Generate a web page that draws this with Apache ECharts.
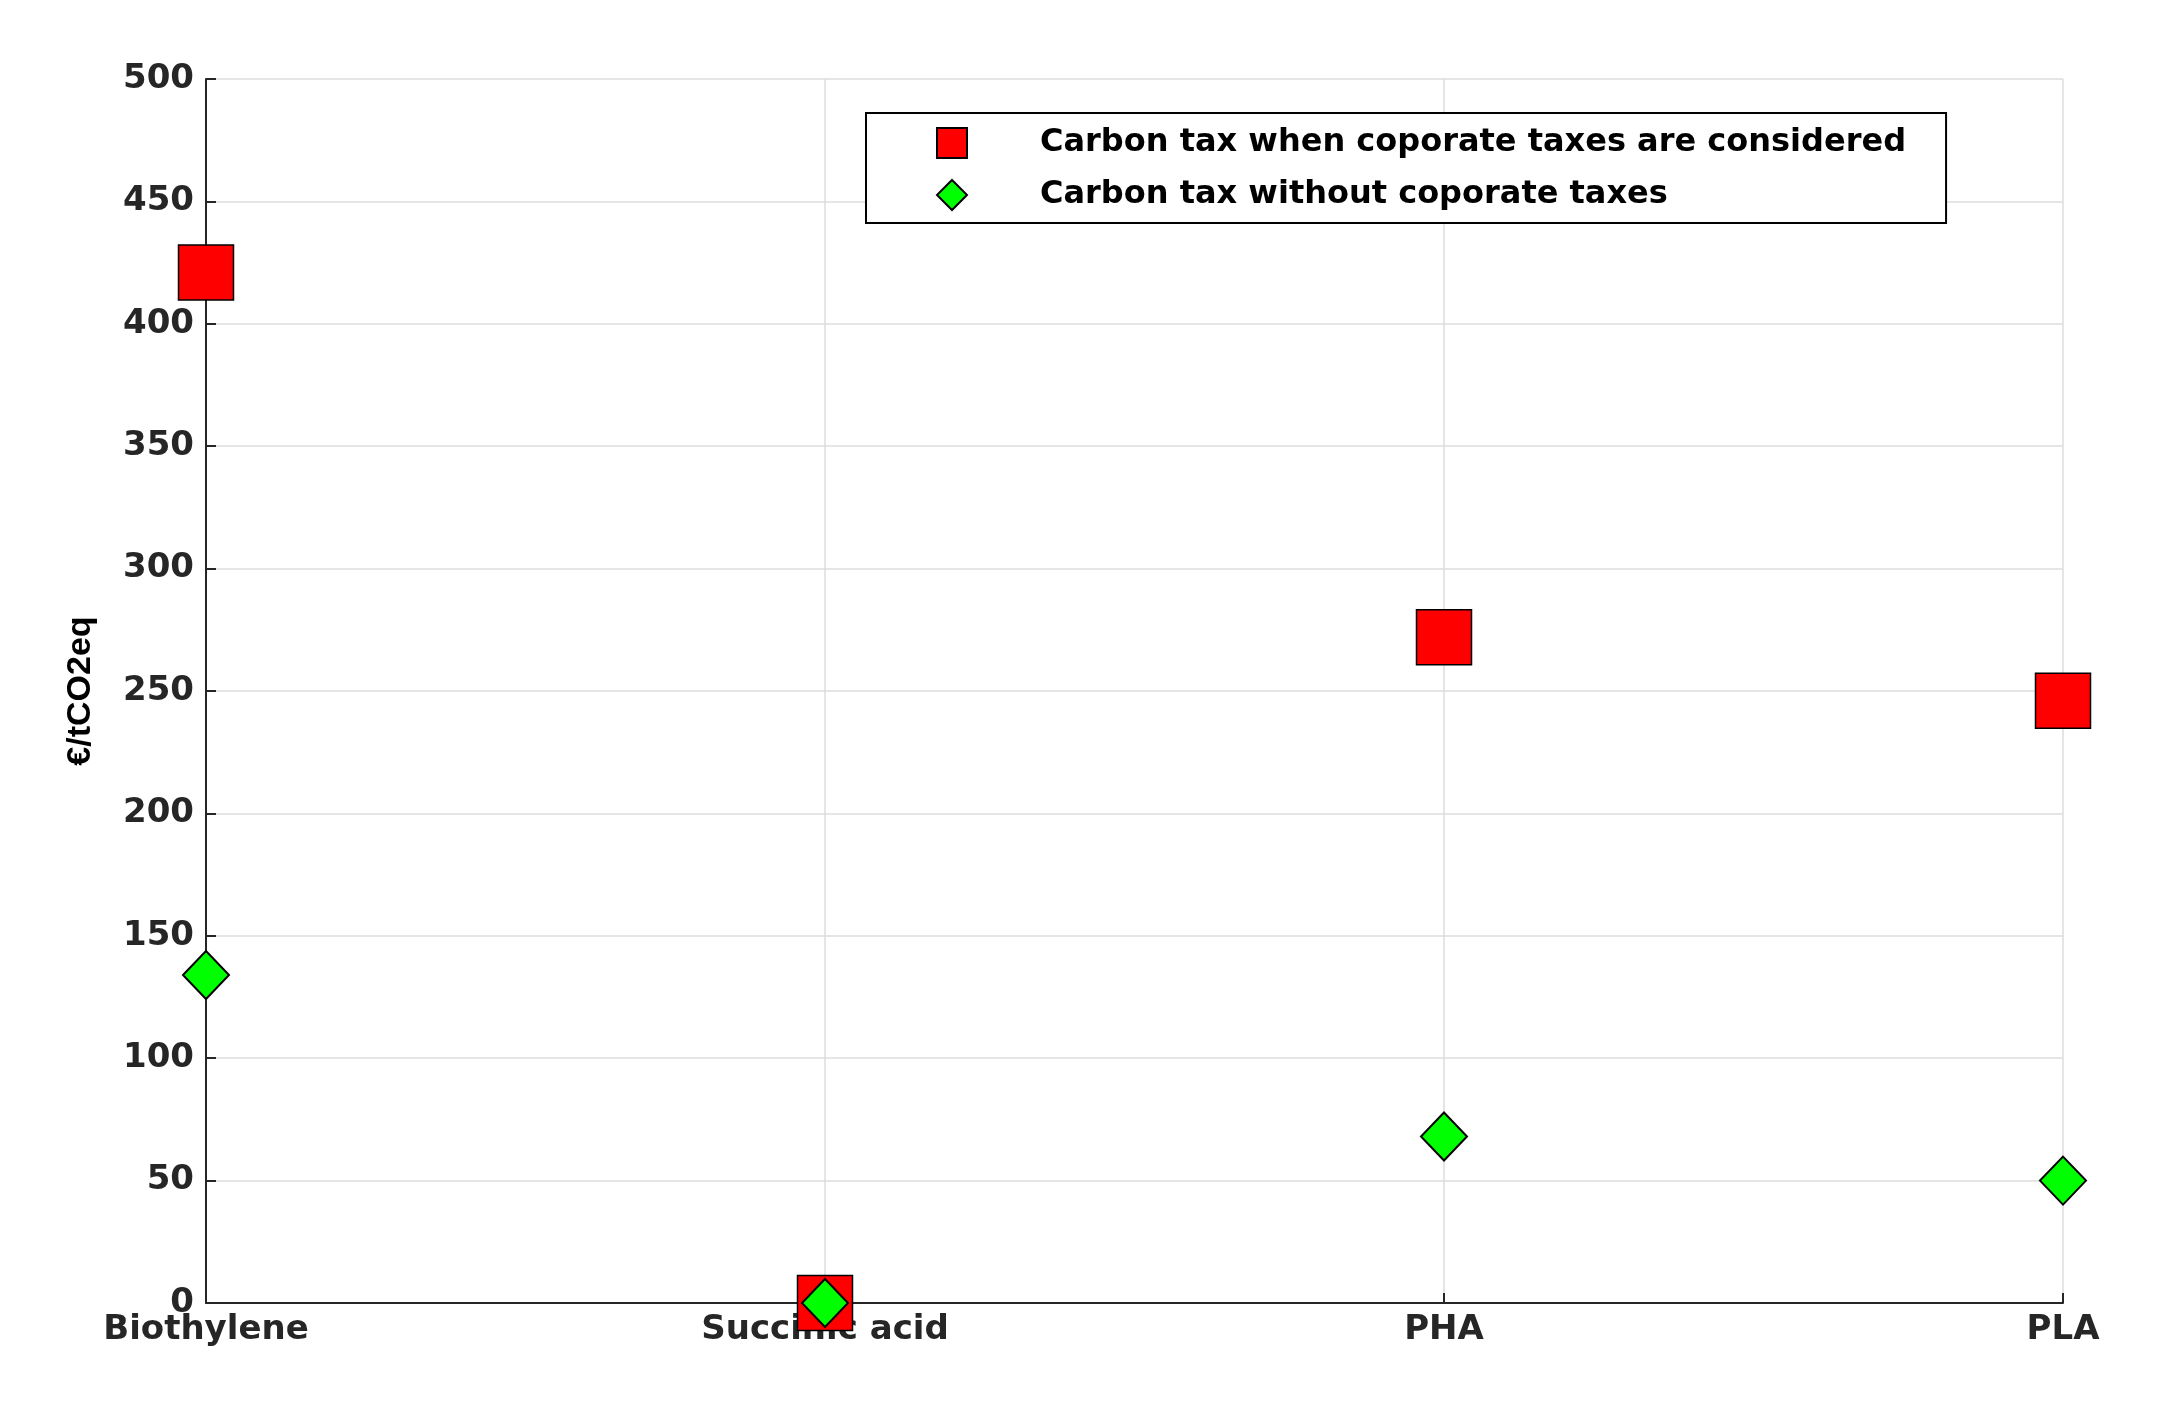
<!DOCTYPE html>
<html>
<head>
<meta charset="utf-8">
<script src="https://cdn.jsdelivr.net/npm/echarts@6/dist/echarts.min.js"></script>
<style>html,body{margin:0;background:#fff}#chart{width:2161px;height:1422px}</style>
</head>
<body>
<div id="chart"></div>
<script>
// products on the x axis
const categories = ['Biothylene', 'Succinic acid', 'PHA', 'PLA'];
// €/tCO2eq
const withCorporateTax = [421, 0, 272, 246];
const withoutCorporateTax = [134, 0, 68, 50];
const yTicks = [0, 500, 50];

const chart = echarts.init(document.getElementById('chart'));
const axisFont = {fontFamily: 'DejaVu Sans', fontWeight: 'bold', fontSize: 34, color: '#262626'};

chart.setOption({
    animation: false,
    grid: {left: 206, right: 98, top: 79, bottom: 119},
    legend: {
        orient: 'vertical',
        left: 866, top: 113,
        padding: [14, 40, 12, 70],
        itemGap: 20,
        itemWidth: 30, itemHeight: 30,
        borderColor: '#000', borderWidth: 2,
        backgroundColor: '#fff',
        textStyle: {fontFamily: 'DejaVu Sans', fontWeight: 'bold', fontSize: 32, color: '#000', padding: [0, 0, 0, 68]},
        data: ['Carbon tax when coporate taxes are considered', 'Carbon tax without coporate taxes']
    },
    xAxis: {
        type: 'category',
        data: categories,
        boundaryGap: false,
        axisLine: {lineStyle: {color: '#262626', width: 2}},
        axisTick: {show: true, inside: true, length: 10, lineStyle: {color: '#262626', width: 2}},
        axisLabel: Object.assign({margin: 10}, axisFont),
        splitLine: {show: true, lineStyle: {color: '#dcdcdc', width: 1.5}}
    },
    yAxis: {
        type: 'value',
        min: yTicks[0], max: yTicks[1], interval: yTicks[2],
        name: '€/tCO2eq',
        nameLocation: 'middle',
        nameGap: 108,
        nameTextStyle: {fontFamily: 'Liberation Sans', fontWeight: 'bold', fontSize: 34, color: '#000'},
        axisLine: {show: true, lineStyle: {color: '#262626', width: 2}},
        axisTick: {show: true, inside: true, length: 10, lineStyle: {color: '#262626', width: 2}},
        axisLabel: Object.assign({margin: 12}, axisFont),
        splitLine: {show: true, lineStyle: {color: '#dcdcdc', width: 1.5}}
    },
    series: [
        {
            name: 'Carbon tax when coporate taxes are considered',
            type: 'scatter',
            symbol: 'rect',
            symbolSize: 55,
            data: withCorporateTax,
            itemStyle: {color: '#ff0000', borderColor: '#000', borderWidth: 1.5, opacity: 1}
        },
        {
            name: 'Carbon tax without coporate taxes',
            type: 'scatter',
            symbol: 'diamond',
            symbolSize: [46, 48],
            data: withoutCorporateTax,
            itemStyle: {color: '#00ff00', borderColor: '#000', borderWidth: 2, opacity: 1}
        }
    ]
});
</script>
</body>
</html>
